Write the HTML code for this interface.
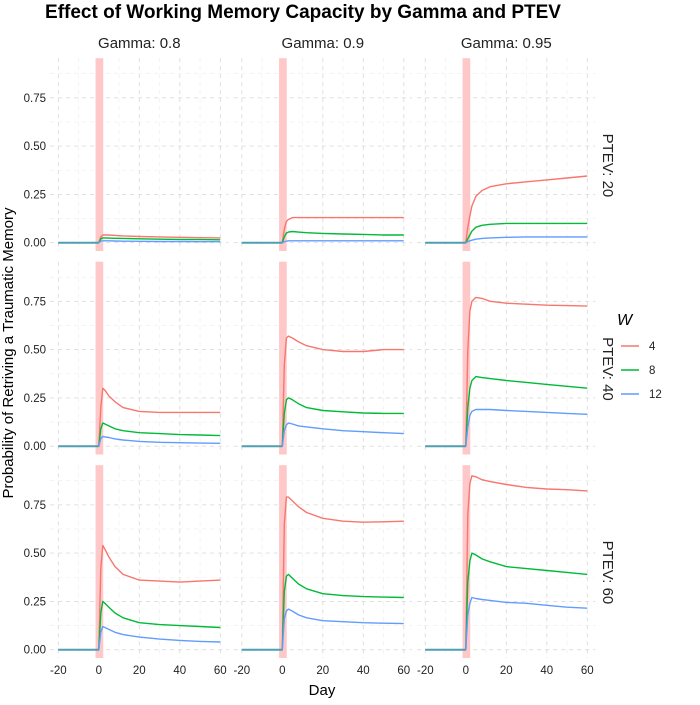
<!DOCTYPE html>
<html><head><meta charset="utf-8"><style>
body{margin:0;background:#fff;}
svg{font-family:"Liberation Sans",sans-serif;}
</style></head><body>
<svg id="chart" width="700" height="700" xmlns="http://www.w3.org/2000/svg">
<text x="303" y="18" text-anchor="middle" font-size="19" font-weight="bold" fill="#000">Effect of Working Memory Capacity by Gamma and PTEV</text>
<text x="322" y="695" text-anchor="middle" font-size="15">Day</text>
<text transform="translate(13,353) rotate(-90)" text-anchor="middle" font-size="15">Probability of Retriving a Traumatic Memory</text>
<g>
<text x="617" y="325" font-size="16" font-style="italic">W</text>
</g>
</svg>
<script>
const days = [-20,0,1,2,3,5,8,12,20,30,40,50,60];
const gammas = ["0.8","0.9","0.95"];
const ptevs = ["20","40","60"];
const wLabels = ["4","8","12"];
const colors = ["#F8766D","#00BA38","#619CFF"];
const yTicks = [0,0.25,0.5,0.75];
const yTickLabels = ["0.00","0.25","0.50","0.75"];
const xTicks = [-20,0,20,40,60];
const p20g08_w4 = [0,0,0.03,0.04,0.04,0.04,0.038,0.035,0.032,0.03,0.028,0.026,0.025];
const p20g08_w8 = [0,0,0.02,0.025,0.025,0.024,0.023,0.022,0.02,0.018,0.017,0.016,0.015];
const p20g08_w12 = [0,0,0.008,0.01,0.01,0.01,0.009,0.008,0.007,0.006,0.006,0.005,0.005];
const p20g09_w4 = [0,0,0.07,0.11,0.12,0.13,0.13,0.13,0.13,0.13,0.13,0.13,0.13];
const p20g09_w8 = [0,0,0.03,0.05,0.055,0.058,0.055,0.052,0.048,0.045,0.043,0.04,0.04];
const p20g09_w12 = [0,0,0.005,0.008,0.01,0.01,0.01,0.01,0.01,0.01,0.01,0.01,0.01];
const p20g095_w4 = [0,0,0.08,0.14,0.19,0.24,0.27,0.29,0.305,0.315,0.325,0.335,0.345];
const p20g095_w8 = [0,0,0.02,0.04,0.06,0.08,0.09,0.095,0.1,0.1,0.1,0.1,0.1];
const p20g095_w12 = [0,0,0.005,0.01,0.013,0.018,0.022,0.025,0.028,0.03,0.03,0.03,0.03];
const p40g08_w4 = [0,0,0.2,0.3,0.29,0.26,0.23,0.2,0.18,0.175,0.175,0.175,0.175];
const p40g08_w8 = [0,0,0.09,0.12,0.115,0.105,0.09,0.08,0.07,0.065,0.06,0.058,0.055];
const p40g08_w12 = [0,0,0.04,0.05,0.048,0.045,0.038,0.032,0.025,0.02,0.018,0.016,0.015];
const p40g09_w4 = [0,0,0.42,0.56,0.57,0.56,0.54,0.52,0.5,0.49,0.49,0.5,0.5];
const p40g09_w8 = [0,0,0.17,0.24,0.25,0.24,0.22,0.2,0.185,0.178,0.172,0.17,0.17];
const p40g09_w12 = [0,0,0.08,0.11,0.12,0.115,0.105,0.1,0.09,0.08,0.075,0.07,0.065];
const p40g095_w4 = [0,0,0.5,0.7,0.75,0.77,0.765,0.75,0.74,0.735,0.73,0.728,0.725];
const p40g095_w8 = [0,0,0.2,0.3,0.34,0.36,0.355,0.35,0.34,0.33,0.32,0.31,0.3];
const p40g095_w12 = [0,0,0.1,0.16,0.18,0.19,0.19,0.19,0.185,0.18,0.175,0.17,0.165];
const p60g08_w4 = [0,0,0.42,0.54,0.52,0.48,0.43,0.39,0.36,0.355,0.35,0.355,0.36];
const p60g08_w8 = [0,0,0.19,0.25,0.24,0.22,0.19,0.165,0.14,0.13,0.125,0.12,0.115];
const p60g08_w12 = [0,0,0.09,0.12,0.115,0.105,0.09,0.078,0.065,0.055,0.048,0.043,0.04];
const p60g09_w4 = [0,0,0.65,0.79,0.79,0.77,0.74,0.71,0.68,0.665,0.66,0.662,0.665];
const p60g09_w8 = [0,0,0.3,0.38,0.39,0.37,0.34,0.315,0.29,0.28,0.275,0.272,0.27];
const p60g09_w12 = [0,0,0.16,0.2,0.21,0.2,0.18,0.165,0.15,0.145,0.14,0.137,0.135];
const p60g095_w4 = [0,0,0.7,0.86,0.9,0.895,0.88,0.87,0.855,0.84,0.832,0.828,0.822];
const p60g095_w8 = [0,0,0.35,0.46,0.5,0.49,0.47,0.455,0.43,0.42,0.41,0.4,0.39];
const p60g095_w12 = [0,0,0.18,0.24,0.27,0.265,0.26,0.255,0.245,0.24,0.23,0.22,0.215];
const series = [
 [[p20g08_w4,p20g08_w8,p20g08_w12],[p20g09_w4,p20g09_w8,p20g09_w12],[p20g095_w4,p20g095_w8,p20g095_w12]],
 [[p40g08_w4,p40g08_w8,p40g08_w12],[p40g09_w4,p40g09_w8,p40g09_w12],[p40g095_w4,p40g095_w8,p40g095_w12]],
 [[p60g08_w4,p60g08_w8,p60g08_w12],[p60g09_w4,p60g09_w8,p60g09_w12],[p60g095_w4,p60g095_w8,p60g095_w12]]
];
const NS="http://www.w3.org/2000/svg";
const svg=document.getElementById('chart');
function mk(tag,attrs,parent){const e=document.createElementNS(NS,tag);for(const k in attrs)e.setAttribute(k,attrs[k]);(parent||svg).appendChild(e);return e;}
const pxPerDay=40.5/20, pxPerY=48.3/0.25;
function xScale(c,d){return 58.3+c*183.5+(d+20)*pxPerDay;}
function yScale(r,v){return 242.7+r*203.5-v*pxPerY;}
for(let r=0;r<3;r++){for(let c=0;c<3;c++){
  const g=mk('g',{});
  
  
  const left=xScale(c,-24), right=xScale(c,64), top=yScale(r,0.955), bot=yScale(r,-0.043);
  [-30,-10,10,30,50].forEach(d=>{const x=xScale(c,d);if(x>left&&x<right){const l=mk('line',{x1:x,x2:x,y1:top,y2:bot,stroke:'#ececec','stroke-width':0.6,'stroke-dasharray':'4,4'},g);}});
  [0.125,0.375,0.625,0.875].forEach(v=>{const y=yScale(r,v);const l=mk('line',{x1:left,x2:right,y1:y,y2:y,stroke:'#ececec','stroke-width':0.6,'stroke-dasharray':'4,4'},g);});
  xTicks.forEach(d=>{const x=xScale(c,d);const l=mk('line',{x1:x,x2:x,y1:top,y2:bot,stroke:'#dcdcdc','stroke-width':0.9,'stroke-dasharray':'4,4'},g);});
  yTicks.forEach(v=>{const y=yScale(r,v);const l=mk('line',{x1:left,x2:right,y1:y,y2:y,stroke:'#dcdcdc','stroke-width':0.9,'stroke-dasharray':'4,4'},g);});
  const band=mk('rect',{x:xScale(c,-1.6),y:top,width:xScale(c,2.2)-xScale(c,-1.6),height:bot-top,fill:'#ffc8c8'},g);
  
  
  for(let w=0;w<3;w++){
    const vals=series[r][c][w];
    const pts=days.map((d,i)=>xScale(c,d).toFixed(1)+','+yScale(r,vals[i]).toFixed(1)).join(' ');
    const pl=mk('polyline',{points:pts,fill:'none',stroke:colors[w],'stroke-width':1.4,'stroke-linejoin':'round'},g);
    
    
  }
  const base=mk('line',{x1:xScale(c,-20),x2:xScale(c,0),y1:yScale(r,0),y2:yScale(r,0),stroke:'#4f9fb0','stroke-width':2},g);
  
  
  if(c===0){yTicks.forEach((v,i)=>{const t=mk('text',{x:46,y:yScale(r,v)+4,'text-anchor':'end','font-size':11.5,fill:'#222'});t.textContent=yTickLabels[i];});}
  if(r===2){xTicks.forEach(d=>{const t=mk('text',{x:xScale(c,d),y:674,'text-anchor':'middle','font-size':11.5,fill:'#222'});t.textContent=String(d);});}
}}
for(let c=0;c<3;c++){const t=mk('text',{x:xScale(c,20),y:48,'text-anchor':'middle','font-size':15,fill:'#222'});t.textContent='Gamma: '+gammas[c];}
for(let r=0;r<3;r++){const y=yScale(r,0.4);const t=mk('text',{transform:'translate(603,'+y+') rotate(90)','text-anchor':'middle','font-size':15,fill:'#222'});t.textContent='PTEV: '+ptevs[r];}
for(let w=0;w<3;w++){const y=346+w*24;
 const l=mk('line',{x1:621,x2:639,y1:y,y2:y,stroke:colors[w],'stroke-width':1.4});
 const t=mk('text',{x:649,y:y+4,'font-size':11.5,fill:'#222'});t.textContent=wLabels[w];}
</script>
</body></html>
